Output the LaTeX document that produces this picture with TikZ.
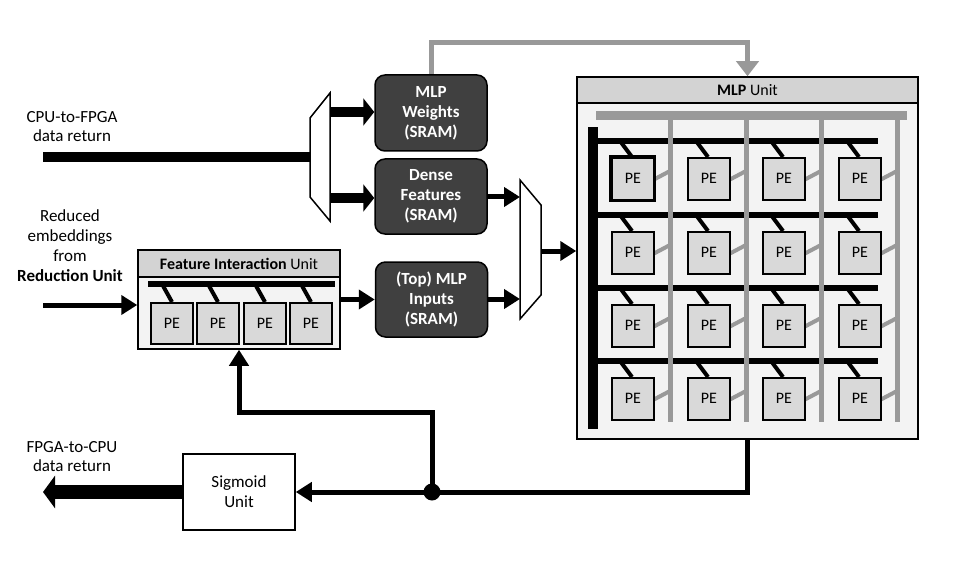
\documentclass[tikz,border=0pt]{standalone}
\usepackage{fontspec}
\setmainfont{Carlito}
\usetikzlibrary{arrows.meta}
\definecolor{dk}{HTML}{404040}
\definecolor{pefill}{HTML}{D9D9D9}
\definecolor{hdr}{HTML}{D3D3D3}
\definecolor{bodyc}{HTML}{F3F3F3}
\definecolor{gl}{HTML}{999999}
\begin{document}
\begin{tikzpicture}[x=1pt,y=-1pt,
  sram/.style={draw=black, line width=1.5pt, fill=dk, rounded corners=10pt, minimum width=112pt, minimum height=76pt, text=white, font=\fontsize{17}{20}\selectfont\bfseries, align=center, inner sep=0pt},
  pebox/.style={draw, line width=1.6pt, fill=pefill, minimum width=42pt, minimum height=42pt, inner sep=0pt, font=\fontsize{16}{18}\selectfont},
  lbl/.style={align=center, font=\fontsize{17}{19}\selectfont, inner sep=0pt},
  muxs/.style={draw, line width=1.5pt, fill=white},
  bigarrow/.style={line width=10pt, -{Triangle[length=11pt,width=27pt]}},
  medarrow/.style={line width=5pt, -{Triangle[length=16pt,width=19pt]}},
  grayline/.style={draw=gl, line width=5pt},
  stub/.style={line width=4pt}
]
\useasboundingbox (0,0) rectangle (966,580);

% side labels
\node[lbl] (cpulbl) at (72,127) {CPU-to-FPGA\\data return};
\node[lbl, font=\fontsize{17}{20}\selectfont] (redlbl) at (70,246) {Reduced\\embeddings\\from\\\textbf{Reduction Unit}};
\node[lbl] (fpgalbl) at (72,457) {FPGA-to-CPU\\data return};

% SRAM boxes
\node[sram] (wts) at (431,113) {MLP\\Weights\\(SRAM)};
\node[sram, minimum height=75pt] (dense) at (431,196.5) {Dense\\Features\\(SRAM)};
\node[sram, minimum height=75pt] (topin) at (431.5,299.5) {(Top) MLP\\Inputs\\(SRAM)};

% Sigmoid
\node[draw, line width=1.5pt, fill=white, minimum width=112pt, minimum height=76pt, align=center, font=\fontsize{17}{20}\selectfont] (sig) at (239,492) {Sigmoid\\Unit};

% Muxes
\draw[muxs] (310,118) -- (330,93) -- (330,221) -- (310,197) -- cycle;
\draw[muxs] (520,180) -- (541,205) -- (541,295) -- (520,319) -- cycle;
\coordinate (cpuin) at (43,157);
\coordinate (m1in) at (310,157);
\coordinate (m1a) at (330,112);
\coordinate (m1b) at (330,198);
\coordinate (m2a) at (520,197);
\coordinate (m2b) at (520,299);
\coordinate (m2o) at (541,251);

% Feature interaction unit
\node[draw, line width=1.5pt, fill=bodyc, minimum width=202pt, minimum height=99pt, inner sep=0pt] (fi) at (239,299.5) {};
\node[draw, line width=1.5pt, fill=hdr, minimum width=202pt, minimum height=27pt, inner sep=0pt, anchor=north, font=\fontsize{16}{18}\selectfont] (fih) at (fi.north) {\textbf{Feature Interaction} Unit};
\draw[line width=6pt] (148,284) -- (335,284);
\foreach \lx [count=\c] in {150,196,243,289} {
  \draw[stub] ({\lx+12},284) -- ({\lx+22},302);
  \node[pebox, minimum height=41pt, anchor=north west] (fpe\c) at (\lx,302) {PE};
}

% MLP unit
\node[draw, line width=1.5pt, fill=bodyc, minimum width=341pt, minimum height=362pt, inner sep=0pt] (mlp) at (747.5,258) {};
\node[draw, line width=1.5pt, fill=hdr, minimum width=341pt, minimum height=26pt, inner sep=0pt, anchor=north, font=\fontsize{16}{18}\selectfont] (mlph) at (mlp.north) {\textbf{MLP} Unit};
\foreach \ty in {157,231,304,377} \draw[line width=5.5pt] (593,{\ty-16}) -- (878,{\ty-16});
\fill (588,127) rectangle (598,429);
\draw[gl, line width=9pt] (596,116) -- (907,116);
\foreach \lx in {611,687,762,838} \draw[grayline] ({\lx+59},116) -- ({\lx+59},422);
\foreach \ty [count=\r] in {157,231,304,377} {
  \foreach \lx [count=\c] in {611,687,762,838} {
    \draw[stub] ({\lx+9},{\ty-16}) -- ({\lx+21},\ty);
    \draw[stub, gl] ({\lx+42},{\ty+23}) -- ({\lx+59},{\ty+14});
    \node[pebox, anchor=north west] (pe\r\c) at (\lx,\ty) {PE};
  }
}
\draw[line width=3.4pt] (pe11.north west) rectangle (pe11.south east);

% connectors
\draw[line width=10pt] (cpuin) -- (m1in);
\draw[bigarrow] (m1a) -- (m1a -| wts.west);
\draw[bigarrow] (m1b) -- (m1b -| dense.west);
\draw[medarrow] (dense.east |- m2a) -- (m2a);
\draw[medarrow] (topin.east |- m2b) -- (m2b);
\draw[medarrow] (m2o) -- (m2o -| mlp.west);
\draw[medarrow] (fi.east) -- (topin.west);
\coordinate (redin) at (43,305);
\draw[medarrow] (redin) -- (redin -| fi.west);
\draw[grayline, -{Triangle[length=15pt,width=22pt]}] (wts.north) -- ++(0,-32) -| (mlph.north);
\coordinate (j) at (432,492);
\coordinate (k) at (432,412);
\draw[medarrow] (mlp.south) |- (sig.east);
\draw[medarrow] (j) -- (k) -| (fi.south);
\fill (j) circle (8.5pt);
\coordinate (out) at (43,492);
\draw[line width=14pt, -{Triangle[length=12pt,width=32pt]}] (sig.west) -- (out);
\end{tikzpicture}
\end{document}
